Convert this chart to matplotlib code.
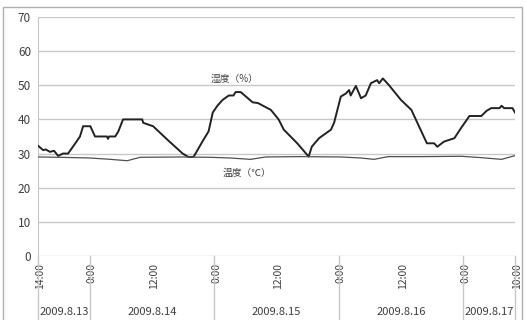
import matplotlib
matplotlib.use("Agg")
import matplotlib.pyplot as plt
from matplotlib.patches import Rectangle
from matplotlib.transforms import ScaledTranslation

plt.rcParams['font.family'] = ['Noto Sans CJK JP', 'DejaVu Sans']

# hours since 2009.8.13 14:00
hum_hours = [0, 1.0, 1.5, 2.3, 3.1, 3.9, 4.8, 5.8, 7.2, 8.1, 8.7, 10.1, 11.0, 13.3, 13.5, 13.7,
             14.9, 15.5, 16.4, 20.1, 20.3, 22.2, 25.0, 27.9, 29.0, 30.0, 31.9, 32.9, 33.7, 34.6,
             35.6, 36.8, 37.7, 38.1, 39.1, 40.4, 41.4, 42.4, 44.9, 46.4, 47.4, 50.0, 52.2, 52.8,
             54.2, 56.5, 57.1, 58.4, 59.4, 60.0, 60.3, 61.3, 62.3, 63.2, 64.2, 65.4, 65.8, 66.5,
             67.7, 70.0, 72.0, 75.0, 76.4, 77.0, 78.3, 80.3, 81.6, 83.2, 85.5, 86.5, 87.4, 89.0,
             89.4, 89.9, 91.5, 92.0]
hum_values = [32.3, 31, 31.2, 30.5, 30.8, 29.3, 30, 30, 33, 35, 38, 38, 35, 35, 34.3, 35,
              35, 36.5, 40, 40, 39, 38, 34, 30, 29, 29, 34, 36.5, 42, 44,
              45.7, 47, 47, 48, 48, 46.3, 45, 44.8, 42.8, 40, 37, 33, 29.1, 32,
              34.5, 37, 39, 46.7, 47.6, 48.6, 47, 49.8, 46.2, 47, 50.6, 51.5, 50.6, 52,
              50, 45.7, 42.8, 33, 33, 32, 33.5, 34.5, 37.5, 41, 41, 42.5, 43.3, 43.3,
              44, 43.3, 43.3, 42]

temp_hours = [0, 4.3, 10, 14, 17.2, 19.7, 27.5, 33.3, 37.1, 41, 43.9, 50.7, 58.4, 62.3,
              64.8, 67.5, 73.9, 81.6, 85.5, 89.4, 92]
temp_values = [29, 28.9, 28.7, 28.3, 27.9, 28.9, 29, 28.9, 28.7, 28.3, 29, 29.1, 29, 28.7,
               28.3, 29.1, 29.1, 29.2, 28.8, 28.3, 29.4]

tick_hours = [0, 10, 22, 34, 46, 58, 70, 82, 92]
tick_labels = ['14:00', '0:00', '12:00', '0:00', '12:00', '0:00', '12:00', '0:00', '10:00']
day_bounds = [0, 10, 34, 58, 82, 92]
day_labels = ['2009.8.13', '2009.8.14', '2009.8.15', '2009.8.16', '2009.8.17']

grid_c = '#c8c8c8'
text_c = '#404040'

fig = plt.figure(figsize=(5.26, 3.2), dpi=100)
ax = fig.add_axes([0.0722, 0.2, 0.907, 0.747])

ax.plot(hum_hours, hum_values, color='#222222', lw=1.4, zorder=3)
ax.plot(temp_hours, temp_values, color='#505050', lw=0.9, zorder=3)

ax.set_xlim(0, 92)
ax.set_ylim(0, 70)
ax.set_yticks(range(0, 71, 10))
ax.yaxis.grid(True, color=grid_c, lw=1)
ax.set_axisbelow(True)
for s in ['top', 'right', 'bottom']:
    ax.spines[s].set_visible(False)
ax.spines['left'].set_color(grid_c)
ax.tick_params(axis='y', length=0, pad=5, labelsize=8.5, labelcolor=text_c)

ax.set_xticks(tick_hours)
ax.set_xticklabels(tick_labels, rotation=90, va='top')
ax.tick_params(axis='x', length=0, pad=5, labelsize=7.5, labelcolor=text_c)
shift = ScaledTranslation(2 / 100, 0, fig.dpi_scale_trans)
for lab in ax.get_xticklabels():
    lab.set_transform(lab.get_transform() + shift)

# category separators below the axis
trans = ax.get_xaxis_transform()
for h in day_bounds:
    ax.plot([h, h], [0, -0.3], color=grid_c, lw=1, transform=trans, clip_on=False)
for i, lab in enumerate(day_labels):
    mid = (day_bounds[i] + day_bounds[i + 1]) / 2
    ax.text(mid, -0.233, lab, transform=trans, ha='center', va='center',
            fontsize=8, color=text_c)

ax.text(37.9, 51.8, '湿度（%）', fontsize=7, color=text_c, ha='center', va='center')
ax.text(40.4, 24.3, '温度（℃）', fontsize=7, color=text_c, ha='center', va='center')

# chart border
fig.patches.append(Rectangle((0.005, -0.01), 0.987, 0.988, transform=fig.transFigure,
                             fill=False, edgecolor='#b0b0b0', lw=1))

fig.savefig('out.png', dpi=100)
